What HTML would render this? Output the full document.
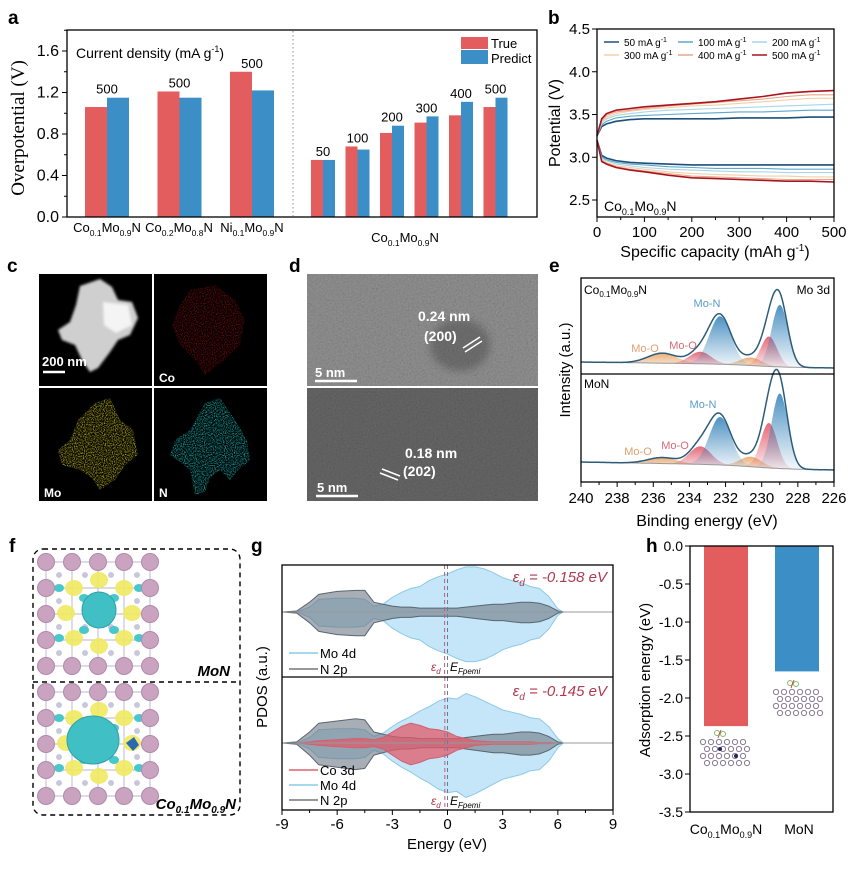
<!DOCTYPE html>
<html><head><meta charset="utf-8">
<style>
html,body{margin:0;padding:0;background:#fff;}
svg{display:block;font-family:"Liberation Sans",Arial,sans-serif;}
.lt{font-weight:bold;font-size:19px;fill:#000;}
</style></head>
<body>
<svg id="fig" width="850" height="869" viewBox="0 0 850 869" xmlns="http://www.w3.org/2000/svg">
<defs>
 <filter id="speck" x="0" y="0" width="100%" height="100%">
  <feTurbulence type="fractalNoise" baseFrequency="0.9" numOctaves="2" seed="3" result="n"/>
  <feColorMatrix in="n" type="matrix" values="0 0 0 0 0  0 0 0 0 0  0 0 0 0 0  0 0 0 2.2 -0.9" result="a"/>
  <feComposite in="SourceGraphic" in2="a" operator="in"/>
 </filter>
 <filter id="blur3"><feGaussianBlur stdDeviation="4"/></filter>
 <filter id="blur1"><feGaussianBlur stdDeviation="1.2"/></filter>
 <filter id="tem" x="0" y="0" width="100%" height="100%">
  <feTurbulence type="fractalNoise" baseFrequency="0.6" numOctaves="3" seed="7"/>
  <feColorMatrix type="matrix" values="0.33 0.33 0.33 0 0  0.33 0.33 0.33 0 0  0.33 0.33 0.33 0 0  0 0 0 0 0.35"/>
 </filter>
 <linearGradient id="gBlue" x1="0" y1="0" x2="0" y2="1"><stop offset="0" stop-color="#2f7fb8"/><stop offset="1" stop-color="#2f7fb8" stop-opacity="0.05"/></linearGradient>
 <linearGradient id="gRed" x1="0" y1="0" x2="0" y2="1"><stop offset="0" stop-color="#e05060"/><stop offset="1" stop-color="#e05060" stop-opacity="0.1"/></linearGradient>
 <linearGradient id="gOr" x1="0" y1="0" x2="0" y2="1"><stop offset="0" stop-color="#e8a060"/><stop offset="1" stop-color="#e8a060" stop-opacity="0.15"/></linearGradient>
</defs>

<!-- panel letters -->
<text class="lt" x="8" y="24">a</text>
<text class="lt" x="548" y="24">b</text>
<text class="lt" x="7" y="272">c</text>
<text class="lt" x="289" y="272">d</text>
<text class="lt" x="549" y="272">e</text>
<text class="lt" x="9" y="552">f</text>
<text class="lt" x="251" y="552">g</text>
<text class="lt" x="646" y="552">h</text>

<!-- ===== Panel a ===== -->
<g id="pa">
 <line x1="293" y1="31" x2="293" y2="216" stroke="#888" stroke-dasharray="1.5,2.5"/>
 <g id="aBars"></g>
 <rect x="67" y="30" width="470" height="187" fill="none" stroke="#000" stroke-width="1.3"/>
 <g id="aTicks"></g>
 <text x="24" y="128" transform="rotate(-90 24 128)" text-anchor="middle" style="font-family:'Liberation Serif',serif;font-size:19px">Overpotential (V)</text>
 <text x="76" y="58" style="font-size:14px">Current density (mA g<tspan dy="-6" font-size="9">-1</tspan><tspan dy="6">)</tspan></text>
 <rect x="461" y="37" width="27" height="12" fill="#e35d5f"/>
 <rect x="461" y="50" width="27" height="14" fill="#3b8ec6"/>
 <text x="491" y="48" style="font-size:13px">True</text>
 <text x="491" y="63" style="font-size:13px">Predict</text>
 <g style="font-size:13px" text-anchor="middle">
  <text x="107" y="232">Co<tspan dy="4" font-size="8.5">0.1</tspan><tspan dy="-4">Mo</tspan><tspan dy="4" font-size="8.5">0.9</tspan><tspan dy="-4">N</tspan></text>
  <text x="179" y="232">Co<tspan dy="4" font-size="8.5">0.2</tspan><tspan dy="-4">Mo</tspan><tspan dy="4" font-size="8.5">0.8</tspan><tspan dy="-4">N</tspan></text>
  <text x="252" y="232">Ni<tspan dy="4" font-size="8.5">0.1</tspan><tspan dy="-4">Mo</tspan><tspan dy="4" font-size="8.5">0.9</tspan><tspan dy="-4">N</tspan></text>
  <text x="405" y="242">Co<tspan dy="4" font-size="8.5">0.1</tspan><tspan dy="-4">Mo</tspan><tspan dy="4" font-size="8.5">0.9</tspan><tspan dy="-4">N</tspan></text>
 </g>
</g>

<!-- ===== Panel b ===== -->
<g id="pb">
 <g id="bLines"></g>
 <rect x="597" y="29" width="237" height="188" fill="none" stroke="#000" stroke-width="1.3"/>
 <g id="bTicks"></g>
 <text x="560" y="123" transform="rotate(-90 560 123)" text-anchor="middle" style="font-size:16px">Potential (V)</text>
 <text x="715" y="257" text-anchor="middle" style="font-size:16px">Specific capacity (mAh g<tspan dy="-6" font-size="10">-1</tspan><tspan dy="6">)</tspan></text>
 <text x="604" y="211" style="font-size:14px">Co<tspan dy="4" font-size="9">0.1</tspan><tspan dy="-4">Mo</tspan><tspan dy="4" font-size="9">0.9</tspan><tspan dy="-4">N</tspan></text>
 <g id="bLegend"></g>
</g>

<!-- ===== Panel c ===== -->
<g id="pc">
 <rect x="39" y="274" width="113" height="112" fill="#000"/>
 <rect x="154" y="274" width="113" height="112" fill="#000"/>
 <rect x="39" y="388" width="113" height="113" fill="#000"/>
 <rect x="154" y="388" width="113" height="113" fill="#000"/>
 <polygon points="80,286 100,279 112,287 118,300 132,302 138,318 130,335 118,340 110,352 98,368 90,372 82,360 75,345 62,340 58,330 70,322 76,305" fill="#cfcfcf" filter="url(#blur1)"/>
 <polygon points="103,302 128,305 132,325 116,333 104,325" fill="#f4f4f4" filter="url(#blur1)"/>
 <polygon points="190,290 215,285 235,300 245,320 240,345 222,362 205,375 195,360 180,345 172,325 180,305" fill="#c01818" opacity="0.7" filter="url(#speck)"/>
 <polygon points="95,403 110,398 120,420 133,430 138,455 125,465 115,480 100,490 92,478 80,470 62,465 58,450 70,440 78,420" fill="#d8d020" filter="url(#speck)"/>
 <polygon points="205,403 220,398 235,420 247,440 250,460 238,470 230,480 220,470 210,478 205,492 195,495 190,470 180,462 170,455 175,440 190,430" fill="#20c8c8" filter="url(#speck)"/>
 <line x1="43" y1="372" x2="65" y2="372" stroke="#fff" stroke-width="2.5"/>
 <text x="42" y="366" fill="#fff" style="font-size:13px;font-weight:bold">200 nm</text>
 <text x="159" y="382" fill="#fff" style="font-size:12px;font-weight:bold">Co</text>
 <text x="44" y="497" fill="#fff" style="font-size:12px;font-weight:bold">Mo</text>
 <text x="159" y="497" fill="#fff" style="font-size:12px;font-weight:bold">N</text>
</g>

<!-- ===== Panel d ===== -->
<g id="pd">
 <rect x="307" y="274" width="231" height="112" fill="#6c6c6c"/>
 <rect x="307" y="274" width="231" height="112" fill="#fff" filter="url(#tem)"/>
 <ellipse cx="460" cy="345" rx="30" ry="26" fill="#333" opacity="0.35" filter="url(#blur3)"/>
 <rect x="307" y="388" width="231" height="113" fill="#484848"/>
 <rect x="307" y="388" width="231" height="113" fill="#fff" filter="url(#tem)" opacity="0.6"/>
 <text x="418" y="321" fill="#fff" style="font-size:14px;font-weight:bold">0.24 nm</text>
 <text x="424" y="341" fill="#fff" style="font-size:14px;font-weight:bold">(200)</text>
 <line x1="463" y1="348" x2="480" y2="337" stroke="#fff" stroke-width="1.6"/>
 <line x1="465" y1="352" x2="482" y2="341" stroke="#fff" stroke-width="1.6"/>
 <text x="405" y="458" fill="#fff" style="font-size:14px;font-weight:bold">0.18 nm</text>
 <text x="403" y="476" fill="#fff" style="font-size:14px;font-weight:bold">(202)</text>
 <line x1="382" y1="469" x2="400" y2="476" stroke="#fff" stroke-width="1.6"/>
 <line x1="380" y1="473" x2="398" y2="480" stroke="#fff" stroke-width="1.6"/>
 <text x="315" y="377" fill="#fff" style="font-size:13px;font-weight:bold">5 nm</text>
 <line x1="315" y1="381" x2="357" y2="381" stroke="#fff" stroke-width="2.5"/>
 <text x="317" y="492" fill="#fff" style="font-size:13px;font-weight:bold">5 nm</text>
 <line x1="316" y1="496" x2="358" y2="496" stroke="#fff" stroke-width="2.5"/>
</g>

<!-- ===== Panel e ===== -->
<g id="pe">
 <g id="eCurves"></g>
 <rect x="581" y="278" width="253" height="204" fill="none" stroke="#000" stroke-width="1.3"/>
 <line x1="581" y1="374" x2="834" y2="374" stroke="#000" stroke-width="1.2"/>
 <g id="eTicks"></g>
 <text x="584" y="294" style="font-size:12px">Co<tspan dy="3" font-size="8">0.1</tspan><tspan dy="-3">Mo</tspan><tspan dy="3" font-size="8">0.9</tspan><tspan dy="-3">N</tspan></text>
 <text x="830" y="294" text-anchor="end" style="font-size:12px">Mo 3d</text>
 <text x="584" y="388" style="font-size:12px">MoN</text>
 <text x="570" y="370" transform="rotate(-90 570 370)" text-anchor="middle" style="font-size:15px">Intensity (a.u.)</text>
 <text x="707" y="526" text-anchor="middle" style="font-size:16px">Binding energy (eV)</text>
 <g style="font-size:11px">
  <text x="707" y="307" fill="#5a9cc4" text-anchor="middle">Mo-N</text>
  <text x="683" y="349" fill="#d66a78" text-anchor="middle">Mo-O</text>
  <text x="645" y="352" fill="#e0a070" text-anchor="middle">Mo-O</text>
  <text x="703" y="408" fill="#5a9cc4" text-anchor="middle">Mo-N</text>
  <text x="675" y="449" fill="#d66a78" text-anchor="middle">Mo-O</text>
  <text x="638" y="455" fill="#e0a070" text-anchor="middle">Mo-O</text>
 </g>
</g>

<!-- ===== Panel f ===== -->
<g id="pf">
 <rect x="33" y="549" width="207" height="266" rx="10" fill="none" stroke="#000" stroke-width="1.4" stroke-dasharray="5,4"/>
 <line x1="33" y1="682" x2="240" y2="682" stroke="#000" stroke-width="1.4" stroke-dasharray="5,4"/>
 <g id="fStruct"></g>
 <text x="230" y="676" text-anchor="end" style="font-size:15px;font-weight:bold;font-style:italic">MoN</text>
 <text x="236" y="809" text-anchor="end" style="font-size:15px;font-weight:bold;font-style:italic">Co<tspan dy="4" font-size="10">0.1</tspan><tspan dy="-4">Mo</tspan><tspan dy="4" font-size="10">0.9</tspan><tspan dy="-4">N</tspan></text>
</g>

<!-- ===== Panel g ===== -->
<g id="pg">
 <g id="gCurves"></g>
 <rect x="282" y="565" width="331" height="245" fill="none" stroke="#000" stroke-width="1.3"/>
 <line x1="282" y1="677" x2="613" y2="677" stroke="#000" stroke-width="1.3"/>
 <g id="gTicks"></g>
 <text x="267" y="687" transform="rotate(-90 267 687)" text-anchor="middle" style="font-size:15px">PDOS (a.u.)</text>
 <text x="447" y="849" text-anchor="middle" style="font-size:15px">Energy (eV)</text>
 <text x="607" y="582" text-anchor="end" fill="#b03a50" style="font-size:15px;font-style:italic">ε<tspan dy="4" font-size="10">d</tspan><tspan dy="-4"> = -0.158 eV</tspan></text>
 <text x="607" y="696" text-anchor="end" fill="#b03a50" style="font-size:15px;font-style:italic">ε<tspan dy="4" font-size="10">d</tspan><tspan dy="-4"> = -0.145 eV</tspan></text>
 <g style="font-size:12px">
  <text x="431" y="671" fill="#b03a50" font-style="italic">ε<tspan dy="3" font-size="8">d</tspan></text>
  <text x="450" y="671" font-style="italic">E<tspan dy="3" font-size="8">Fpemi</tspan></text>
  <text x="431" y="805" fill="#b03a50" font-style="italic">ε<tspan dy="3" font-size="8">d</tspan></text>
  <text x="450" y="805" font-style="italic">E<tspan dy="3" font-size="8">Fpemi</tspan></text>
 </g>
 <g id="gLegend"></g>
</g>

<!-- ===== Panel h ===== -->
<g id="ph">
 <g id="hBars"></g>
 <rect x="690" y="546" width="143" height="266" fill="none" stroke="#000" stroke-width="1.3"/>
 <g id="hTicks"></g>
 <text x="650" y="680" transform="rotate(-90 650 680)" text-anchor="middle" style="font-size:15px">Adsorption energy (eV)</text>
 <text x="726" y="834" text-anchor="middle" style="font-size:14px">Co<tspan dy="4" font-size="9">0.1</tspan><tspan dy="-4">Mo</tspan><tspan dy="4" font-size="9">0.9</tspan><tspan dy="-4">N</tspan></text>
 <text x="799" y="834" text-anchor="middle" style="font-size:14px">MoN</text>
 <g id="hMol"></g>
</g>
</svg>

<script>
// ---------- Panel a data ----------
const aCats = ["Co0.1Mo0.9N","Co0.2Mo0.8N","Ni0.1Mo0.9N","50","100","200","300","400","500"];
const aTrue = [1.06,1.21,1.40,0.55,0.68,0.81,0.91,0.98,1.06];
const aPred = [1.15,1.15,1.22,0.55,0.65,0.88,0.97,1.11,1.15];
const aRateLabels = ["500","500","500","50","100","200","300","400","500"];
const aTicks = [0,0.4,0.8,1.2,1.6];
// ---------- Panel b data ----------
const bCap = [0,10,20,40,70,100,150,200,250,300,350,400,450,500];
const bRates = ["50","100","200","300","400","500"];
const bCharge = [
 [3.25,3.36,3.39,3.42,3.44,3.45,3.45,3.45,3.45,3.46,3.46,3.46,3.47,3.47],
 [3.25,3.38,3.42,3.46,3.48,3.49,3.50,3.51,3.52,3.53,3.53,3.54,3.55,3.55],
 [3.25,3.40,3.45,3.49,3.51,3.53,3.55,3.56,3.57,3.58,3.59,3.60,3.61,3.62],
 [3.25,3.42,3.47,3.51,3.54,3.56,3.58,3.60,3.61,3.63,3.65,3.67,3.69,3.69],
 [3.25,3.43,3.49,3.53,3.55,3.57,3.60,3.62,3.64,3.66,3.68,3.71,3.73,3.73],
 [3.25,3.45,3.51,3.55,3.57,3.59,3.61,3.63,3.65,3.68,3.71,3.75,3.77,3.78]];
const bDischarge = [
 [3.20,3.02,2.99,2.96,2.94,2.93,2.92,2.91,2.91,2.91,2.91,2.91,2.91,2.91],
 [3.20,3.00,2.97,2.94,2.92,2.91,2.89,2.88,2.87,2.87,2.87,2.86,2.86,2.86],
 [3.20,2.98,2.96,2.92,2.90,2.88,2.86,2.85,2.84,2.83,2.83,2.82,2.82,2.82],
 [3.20,2.97,2.94,2.90,2.88,2.86,2.83,2.81,2.80,2.79,2.78,2.78,2.77,2.77],
 [3.20,2.96,2.93,2.89,2.86,2.84,2.81,2.78,2.77,2.76,2.75,2.74,2.74,2.74],
 [3.20,2.95,2.92,2.88,2.85,2.83,2.79,2.76,2.75,2.74,2.73,2.72,2.72,2.71]];
const bYTicks = [2.5,3.0,3.5,4.0,4.5];
const bXTicks = [0,100,200,300,400,500];
// ---------- Panel e data ----------
const ePeakCenter = [229.0,232.3,229.6,233.4,230.6,235.5];
const ePeakType   = ["blue","blue","red","red","orange","orange"];
const eTopHeight  = [0.62,0.48,0.30,0.12,0.08,0.10];
const eBotHeight  = [0.75,0.48,0.45,0.18,0.10,0.06];
const ePeakWidth  = [0.45,0.6,0.45,0.6,0.6,0.8];
const eXTicks = [240,238,236,234,232,230,228,226];
// ---------- Panel g data ----------
const gE    = [-9,-8.2,-7.5,-7,-6,-5,-4.5,-4,-3.5,-3,-2.5,-2,-1.5,-1,-0.5,0,0.5,1,1.5,2,2.5,3,3.5,4,4.5,5,5.5,6,6.3,9];
const gMoA  = [0,0,0.5,1.3,1.4,1.4,1.3,0.6,0.8,1.5,2.0,2.4,2.6,3.2,3.6,3.9,4.3,4.6,4.6,4.4,4.0,3.5,3.2,3.0,2.6,2.4,1.6,0.3,0,0];
const gNA   = [0,0.1,1.0,1.8,2.1,2.2,2.2,1.0,0.8,0.6,0.5,0.5,0.4,0.4,0.4,0.4,0.4,0.5,0.6,0.7,0.8,0.8,0.9,1.0,1.0,0.9,0.6,0.1,0,0];
const gMoB  = [0,0,0.5,1.2,1.3,1.3,1.2,0.6,0.9,1.5,2.0,2.4,2.9,3.3,3.8,4.1,4.0,4.5,4.2,3.8,3.4,3.0,2.8,2.6,2.3,2.2,1.5,0.4,0,0];
const gNB   = [0,0.1,1.0,1.8,2.0,2.2,2.1,1.0,0.8,0.6,0.5,0.5,0.4,0.4,0.4,0.4,0.4,0.5,0.6,0.7,0.8,0.8,0.9,1.0,1.0,0.9,0.6,0.1,0,0];
const gCoB  = [0,0,0.1,0.2,0.3,0.4,0.4,0.3,0.5,1.0,1.5,1.8,1.6,1.3,1.2,1.0,0.6,0.4,0.2,0.15,0.1,0.1,0.1,0.1,0.1,0.05,0.05,0,0,0];
const gXTicks = [-9,-6,-3,0,3,6,9];
const gEd = [-0.158,-0.145];
// ---------- Panel h data ----------
const hCats = ["Co0.1Mo0.9N","MoN"];
const hVals = [-2.37,-1.65];
const hTicks = [0,-0.5,-1.0,-1.5,-2.0,-2.5,-3.0,-3.5];

const NS = "http://www.w3.org/2000/svg";
function mk(tag, attrs, parent){const e=document.createElementNS(NS,tag);for(const k in attrs)e.setAttribute(k,attrs[k]);parent.appendChild(e);return e;}
const $ = id=>document.getElementById(id);

// ===== Panel a =====
const aY = v => 217 - v*103.75;
const aX = i => i<3 ? 107 + i*72.5 : 323 + (i-3)*34.5;
const aW = i => i<3 ? 22 : 12;
aCats.forEach((c,i)=>{
  const cx=aX(i), w=aW(i);
  const r=mk("rect",{x:cx-w,y:aY(aTrue[i]),width:w,height:217-aY(aTrue[i]),fill:"#e35d5f"},$("aBars"));
  
  
  const b=mk("rect",{x:cx,y:aY(aPred[i]),width:w,height:217-aY(aPred[i]),fill:"#3b8ec6"},$("aBars"));
  
  
  const t=mk("text",{x:cx,y:aY(Math.max(aTrue[i],aPred[i]))-4,"text-anchor":"middle","font-size":"13"},$("aBars"));
  t.textContent=aRateLabels[i];
  
  
});
aTicks.forEach(v=>{
  mk("line",{x1:67,x2:62,y1:aY(v),y2:aY(v),stroke:"#000"},$("aTicks"));
  mk("line",{x1:67,x2:64,y1:aY(v+0.2),y2:aY(v+0.2),stroke:"#000"},$("aTicks"));
  const t=mk("text",{x:59,y:aY(v)+5,"text-anchor":"end","font-size":"16"},$("aTicks"));
  t.textContent=v.toFixed(1);
  
  
});

// ===== Panel b =====
const bX = v => 597 + v*0.474;
const bY = v => 200 - (v-2.5)*85.5;
const bCol = ["#1d4f7a","#5ba8cc","#a9d6e8","#f2cfa6","#eaa58a","#a8141c"];
const bw = [1.6,1.1,1.1,1.1,1.1,1.6];
for(let s=0;s<bRates.length;s++){
  for(const [arr,nm] of [[bCharge,'charge'],[bDischarge,'discharge']]){
    const d=bCap.map((c,i)=>(i?'L':'M')+bX(c).toFixed(1)+','+bY(arr[s][i]).toFixed(1)).join('');
    const p=mk("path",{d:d,fill:"none",stroke:bCol[s],"stroke-width":bw[s],"stroke-linejoin":"round"},$("bLines"));
    
    
  }
}
bRates.forEach((r,i)=>{
  const col=i%3,row=Math.floor(i/3);
  const x=604+col*74,y=42+row*13;
  mk("line",{x1:x,x2:x+15,y1:y,y2:y,stroke:bCol[i],"stroke-width":1.5},$("bLegend"));
  const t=mk("text",{x:x+20,y:y+4,"font-size":"10"},$("bLegend"));
  t.innerHTML=r+' mA g<tspan dy="-4" font-size="7">-1</tspan>';
  
  
});
bYTicks.forEach(v=>{
  mk("line",{x1:597,x2:592,y1:bY(v),y2:bY(v),stroke:"#000"},$("bTicks"));
  const t=mk("text",{x:590,y:bY(v)+5,"text-anchor":"end","font-size":"15"},$("bTicks"));
  t.textContent=v.toFixed(1);
  
  
});
bXTicks.forEach(v=>{
  mk("line",{x1:bX(v),x2:bX(v),y1:217,y2:222,stroke:"#000"},$("bTicks"));
  mk("line",{x1:bX(v+50),x2:bX(v+50),y1:217,y2:220,stroke:"#000"},$("bTicks"));
  const t=mk("text",{x:bX(v),y:237,"text-anchor":"middle","font-size":"15"},$("bTicks"));
  t.textContent=v;
  
  
});

// ===== Panel e =====
const eX = v => 581 + (240-v)*18.07;
const eFill = {blue:"url(#gBlue)",red:"url(#gRed)",orange:"url(#gOr)"};
function gauss(x,c,w){return Math.exp(-0.5*((x-c)/w)**2);}
function drawXPS(heights, baseL, baseR, scale, tag){
  const xs=[];for(let v=240;v>=226-1e-9;v-=0.05)xs.push(v);
  const bg = v => baseR + (baseL-baseR)*(1/(1+Math.exp(-(v-230.5)*1.2)))*0.4 + (baseL-baseR)*0.6*(v-226)/14;
  [4,5,2,3,0,1].forEach(k=>{
    let d='';xs.forEach((v,i)=>{d+=(i?'L':'M')+eX(v).toFixed(1)+','+(bg(v)-heights[k]*scale*gauss(v,ePeakCenter[k],ePeakWidth[k])).toFixed(1);});
    for(let i=xs.length-1;i>=0;i--)d+='L'+eX(xs[i]).toFixed(1)+','+bg(xs[i]).toFixed(1);
    const p=mk("path",{d:d+'Z',fill:eFill[ePeakType[k]],stroke:"none",opacity:0.85},$("eCurves"));
    
    
  });
  let env='',base='';
  xs.forEach((v,i)=>{let s=0;for(let k=0;k<6;k++)s+=heights[k]*gauss(v,ePeakCenter[k],ePeakWidth[k]);
    env+=(i?'L':'M')+eX(v).toFixed(1)+','+(bg(v)-s*scale).toFixed(1);
    base+=(i?'L':'M')+eX(v).toFixed(1)+','+bg(v).toFixed(1);});
  const b=mk("path",{d:base,fill:"none",stroke:"#999","stroke-width":1},$("eCurves"));
  
  
  const e=mk("path",{d:env,fill:"none",stroke:"#2c5c78","stroke-width":1.5},$("eCurves"));
  
  
}
drawXPS(eTopHeight,362,368,100,'co01mo09n');
drawXPS(eBotHeight,462,470,100,'mon');
eXTicks.forEach(v=>{
  mk("line",{x1:eX(v),x2:eX(v),y1:482,y2:487,stroke:"#000"},$("eTicks"));
  if(v>226) mk("line",{x1:eX(v-1),x2:eX(v-1),y1:482,y2:485,stroke:"#000"},$("eTicks"));
  const t=mk("text",{x:eX(v),y:503,"text-anchor":"middle","font-size":"15"},$("eTicks"));
  t.textContent=v;
  
  
});

// ===== Panel g =====
const gX = v => 282 + (v+9)*18.39;
function band(arr, base, sc){
  let d='';gE.forEach((e,i)=>{d+=(i?'L':'M')+gX(e).toFixed(1)+','+(base-arr[i]*sc).toFixed(1);});
  for(let i=gE.length-1;i>=0;i--)d+='L'+gX(gE[i]).toFixed(1)+','+(base+arr[i]*sc*1.1).toFixed(1);
  return d+'Z';
}
function drawPDOS(series, base, sc, tag){
  series.forEach(([arr,fill,stroke,nm])=>{
    const p=mk("path",{d:band(arr,base,sc),fill:fill,stroke:stroke,"stroke-width":1},$("gCurves"));
    
    
  });
  mk("line",{x1:282,x2:613,y1:base,y2:base,stroke:"#999","stroke-width":1},$("gCurves"));
}
drawPDOS([[gMoA,"#c4e6f8","#8cc9e6","mo4d"],[gNA,"rgba(110,120,132,0.6)","#5a6570","n2p"]],612,9.8,'mon');
drawPDOS([[gMoB,"#c4e6f8","#8cc9e6","mo4d"],[gNB,"rgba(110,120,132,0.6)","#5a6570","n2p"],[gCoB,"rgba(226,90,105,0.75)","#d06070","co3d"]],743,11,'co01mo09n');
[[565,677],[677,810]].forEach(([y1,y2],k)=>{
  mk("line",{x1:gX(0),x2:gX(0),y1:y1,y2:y2,stroke:"#6a7a9a","stroke-dasharray":"4,3"},$("gCurves"));
  const l=mk("line",{x1:gX(gEd[k]),x2:gX(gEd[k]),y1:y1,y2:y2,stroke:"#c06070","stroke-dasharray":"4,3"},$("gCurves"));
  
  
});
gXTicks.forEach(v=>{
  mk("line",{x1:gX(v),x2:gX(v),y1:810,y2:815,stroke:"#000"},$("gTicks"));
  if(v<9) mk("line",{x1:gX(v+1.5),x2:gX(v+1.5),y1:810,y2:813,stroke:"#000"},$("gTicks"));
  const t=mk("text",{x:gX(v),y:829,"text-anchor":"middle","font-size":"15"},$("gTicks"));
  t.textContent=v;
  
  
});
[[653,"#8ccbe8","Mo 4d"],[669,"#777","N 2p"],[770,"#e06070","Co 3d"],[785,"#8ccbe8","Mo 4d"],[800,"#777","N 2p"]].forEach(([y,c,l])=>{
  mk("line",{x1:289,x2:318,y1:y,y2:y,stroke:c,"stroke-width":1.5},$("gLegend"));
  const t=mk("text",{x:320,y:y+5,"font-size":"13"},$("gLegend"));
  t.textContent=l;
  
  
});

// ===== Panel h =====
const hY = v => 546 + (-v)*76;
const hCx = [726,797], hCol=["#e35d5f","#3b8ec6"];
hCats.forEach((c,i)=>{
  const r=mk("rect",{x:hCx[i]-22,y:546,width:44,height:hY(hVals[i])-546,fill:hCol[i]},$("hBars"));
  
  
});
hTicks.forEach(v=>{
  mk("line",{x1:690,x2:685,y1:hY(v),y2:hY(v),stroke:"#000"},$("hTicks"));
  const t=mk("text",{x:683,y:hY(v)+5,"text-anchor":"end","font-size":"14"},$("hTicks"));
  t.textContent=v.toFixed(1);
  
  
});
function slab(x0,y0,parent){
  for(let r=0;r<4;r++)for(let c=0;c<6;c++){
    mk("circle",{cx:x0+c*8+(r%2)*4,cy:y0+r*7,r:2.6,fill:"none",stroke:"#8a7890","stroke-width":1},parent);
  }
  mk("circle",{cx:x0+14,cy:y0-9,r:2.5,fill:"none",stroke:"#6a4",opacity:0.8},parent);
  mk("circle",{cx:x0+20,cy:y0-8,r:2.5,fill:"none",stroke:"#6a4",opacity:0.8},parent);
  mk("line",{x1:x0+15,y1:y0-4,x2:x0+18,y2:y0-12,stroke:"#c44"},parent);
}
slab(703,742,$("hMol"));
slab(776,692,$("hMol"));
mk("circle",{cx:720,cy:749,r:2,fill:"#226"},$("hMol"));
mk("circle",{cx:736,cy:756,r:2,fill:"#226"},$("hMol"));

// ===== Panel f (decorative structures) =====
function structure(x0,y0,co){
  const g=$("fStruct");
  // bonds lattice
  for(let k=0;k<5;k++){
    mk("line",{x1:x0+2+k*26,y1:y0+4,x2:x0+2+k*26,y2:y0+108,stroke:"#c8c4d8","stroke-width":1.2},g);
    mk("line",{x1:x0+2,y1:y0+4+k*26,x2:x0+106,y2:y0+4+k*26,stroke:"#c8c4d8","stroke-width":1.2},g);
  }
  for(let r=0;r<4;r++)for(let c=0;c<4;c++){
    mk("circle",{cx:x0+15+c*26,cy:y0+17+r*26,r:3,fill:"#c8c8dc"},g);
  }
  // yellow lobes
  [[30,30],[80,30],[30,80],[80,80],[55,22],[55,88],[22,55],[88,55]].forEach(([dx,dy])=>{
    mk("ellipse",{cx:x0+dx,cy:y0+dy,rx:9,ry:8,fill:"#f0ea60",opacity:0.9},g);
  });
  [[40,40],[70,40],[40,72],[70,72],[15,30],[95,30],[15,80],[95,80]].forEach(([dx,dy])=>{
    mk("ellipse",{cx:x0+dx,cy:y0+dy,rx:5,ry:4,fill:"#48c8cc"},g);
  });
  mk("ellipse",{cx:x0+55+(co?-6:0),cy:y0+52,rx:co?26:17,ry:co?24:18,fill:"#40c0c4",stroke:"#30a0a8"},g);
  for(let r=0;r<5;r++)for(let c=0;c<5;c++){
    if(r>0&&r<4&&c>0&&c<4) continue;
    mk("circle",{cx:x0+2+c*26,cy:y0+4+r*26,r:8.5,fill:"#c9a3c0",stroke:"#b08aa8"},g);
  }
  if(co) mk("path",{d:`M${x0+82},${y0+55} l8,-6 l5,8 l-6,6z`,fill:"#2a6ab0"},g);
}
structure(44,558,false);
structure(44,688,true);
</script>
</body></html>
